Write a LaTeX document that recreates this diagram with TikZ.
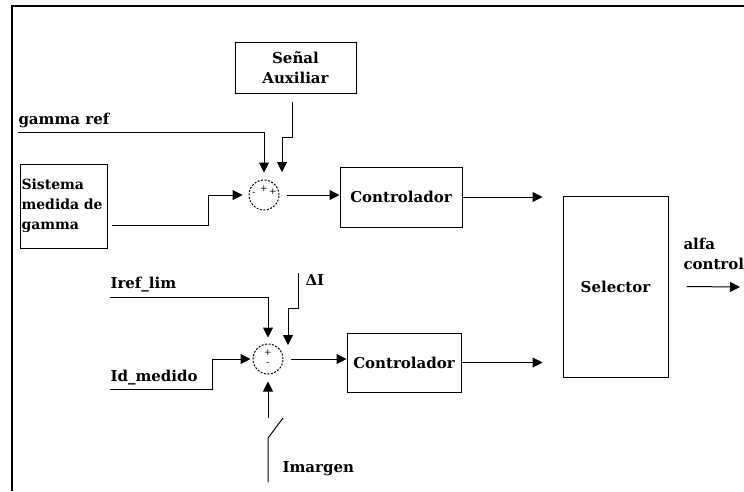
\documentclass[tikz,border=0pt]{standalone}
\usepackage{fontspec}
\setmainfont{DejaVu Serif}
\usetikzlibrary{arrows.meta,calc}
\begin{document}
\begin{tikzpicture}[x=1pt,y=-1pt,>={Triangle[length=10pt,width=10pt]},line width=1pt,
  font=\fontsize{15}{20}\selectfont\bfseries,
  blk/.style={draw,inner sep=2pt,align=center},
  sumnode/.style={draw,circle,dash pattern=on 2pt off 1.5pt,minimum size=30pt,inner sep=0pt},
  sgn/.style={font=\normalfont\fontsize{9}{9}\selectfont,inner sep=0pt},
  sig/.style={->},
  lbl/.style={anchor=base west,inner sep=0pt}]
\useasboundingbox (0,0) rectangle (744,491);
\draw[line width=1.5pt] (744,6) -- (12,6) -- (12,491);
% blocks
\node[blk,minimum width=121pt,minimum height=51pt] (sen) at (295.5,67.5) {Señal\\Auxiliar};
\node[blk,minimum width=87pt,minimum height=84pt,text width=84pt,inner xsep=1.5pt,align=left,
  font=\fontsize{14}{20}\selectfont\bfseries] (sis) at (63.5,206) {Sistema\\medida de\\gamma};
\node[sumnode] (sum1) at (264,195) {};
\node[sgn] at ($(sum1)+(-10,-1)$) {-};
\node[sgn] at ($(sum1)+(0,-6)$) {+};
\node[sgn] at ($(sum1)+(9,-3)$) {+};
\node[blk,minimum width=122pt,minimum height=60pt] (ctl1) at (401,197) {Controlador};
\node[blk,minimum width=105pt,minimum height=181pt] (sel) at (615.5,286.5) {Selector};
\node[sumnode] (sum2) at (268,359) {};
\node[sgn] at ($(sum2)+(0,-6)$) {+};
\node[sgn] at ($(sum2)+(0,5)$) {-};
\node[blk,minimum width=114pt,minimum height=59pt] (ctl2) at (404,362.5) {Controlador};
% upper loop
\coordinate (gref) at (18,132);
\draw[sig,shorten >=7pt] (gref) -| (sum1.north);
\node[lbl] at ([yshift=8pt]gref) {gamma ref};
\coordinate (aux) at (282,172);
\draw[sig,shorten <=8pt] ([xshift=-3.5pt]sen.south) -- ++(0,44) -| (aux);
\coordinate (sisout) at (112,225);
\draw[sig,shorten >=6pt] (sisout) -- ++(96,0) |- (sum1.west);
\draw[sig,shorten <=7pt] (sum1.east) -- (sum1.east -| ctl1.west);
\draw[sig,shorten >=20pt] (ctl1.east) -- (ctl1.east -| sel.west);
% lower loop
\coordinate (iref) at (110,297);
\draw[sig,shorten >=6pt] (iref) -| (sum2.north);
\node[lbl] at ([yshift=9pt]iref) {Iref\_lim};
\coordinate (dtop) at (298,273);
\coordinate (di) at (288,345);
\draw[sig] (dtop) -- ++(0,35) -| (di);
\node[lbl] at ([xshift=7pt,yshift=-12pt]dtop) {ΔI};
\coordinate (idm) at (110,389);
\draw[sig,shorten >=2pt] (idm) -- ++(102,0) |- (sum2.west);
\node[lbl] at ([yshift=8pt]idm) {Id\_medido};
\coordinate (im0) at (268,482);
\coordinate (im1) at (268,438);
\coordinate (im2) at (283,418);
\coordinate (im3) at (268,418);
\draw (im0) -- (im1) -- (im2);
\draw[sig,shorten >=7pt] (im3) -- (sum2.south);
\node[lbl] at ([xshift=14pt,yshift=10pt]im0) {Imargen};
\draw[sig,shorten <=7pt] (sum2.east) -- (sum2.east -| ctl2.west);
\draw[sig,shorten >=20pt] (ctl2.east) -- (ctl2.east -| sel.west);
% output
\coordinate (alfa) at (740,287);
\draw[sig] ([xshift=18pt]sel.east) -- (alfa);
\node[inner sep=0pt,align=left,anchor=north west] (alfalbl) at (683,238) {alfa\\control};
\end{tikzpicture}
\end{document}
